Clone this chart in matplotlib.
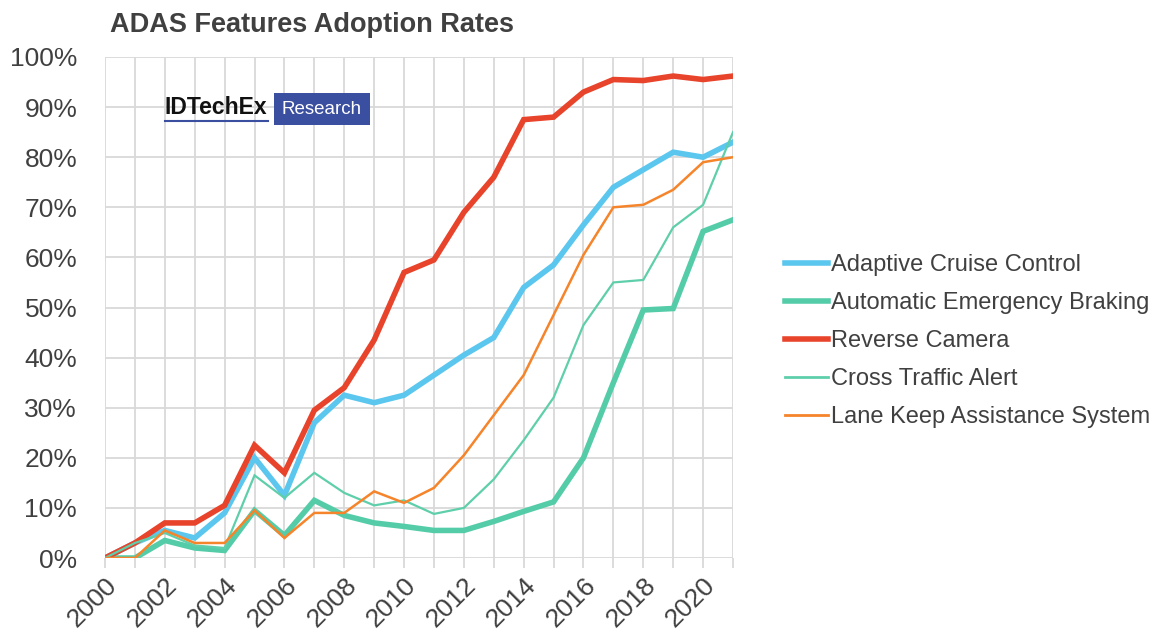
import matplotlib
matplotlib.use('Agg')
import matplotlib.pyplot as plt
from matplotlib.ticker import PercentFormatter


years = list(range(2000, 2022))
acc = [0, 3, 5.5, 4, 9, 20, 12.5, 27, 32.5, 31, 32.5, 36.5, 40.5, 44,
       54, 58.5, 66.5, 74, 77.5, 81, 80, 83]
aeb = [0, 0, 3.5, 2, 1.5, 9.5, 4.5, 11.5, 8.5, 7, 6.3, 5.5, 5.5, 7.3,
       9.3, 11.2, 20, 35, 49.5, 49.8, 65.2, 67.5]
reverse_cam = [0, 3, 7, 7, 10.5, 22.5, 17, 29.5, 34, 43.5, 57, 59.5, 69, 76,
               87.5, 88, 93, 95.5, 95.3, 96.2, 95.5, 96.2]
cta = [0, 3, 5, 2.5, 2, 16.5, 12, 17, 13, 10.5, 11.5, 8.8, 10, 15.7,
       23.5, 32, 46.5, 55, 55.5, 66, 70.5, 85]
lkas = [0, 0, 5.5, 3, 3, 9.5, 4, 9, 9, 13.3, 11, 14, 20.5, 28.5,
        36.5, 48.5, 60.5, 70, 70.5, 73.5, 79, 80]

series = [
    ('Adaptive Cruise Control', acc, '#5bc6ee', 4.0),
    ('Automatic Emergency Braking', aeb, '#55cca8', 4.0),
    ('Reverse Camera', reverse_cam, '#e8432b', 4.0),
    ('Cross Traffic Alert', cta, '#5ecfaa', 1.6),
    ('Lane Keep Assistance System', lkas, '#f5842a', 1.8),
]

plt.rcParams['font.family'] = ['Liberation Sans', 'DejaVu Sans']

fig = plt.figure(figsize=(11.54, 6.32), dpi=100)
ax = fig.add_axes([105 / 1154, 1 - 558 / 632, 628 / 1154, 501 / 632])

for name, vals, color, lw in series:
    ax.plot(years, vals, color=color, lw=lw, label=name, solid_joinstyle='miter')

ax.set_xlim(2000, 2021)
ax.set_ylim(0, 100)
ax.set_xticks(years, minor=True)
ax.set_xticks(range(2000, 2021, 2))
ax.set_yticks(range(0, 101, 10))
ax.yaxis.set_major_formatter(PercentFormatter(decimals=0))
ax.grid(True, which='both', axis='x', color='#d9d9d9', lw=1.3)
ax.grid(True, which='major', axis='y', color='#d9d9d9', lw=1.3)
ax.set_axisbelow(True)
for s in ax.spines.values():
    s.set_visible(False)
ax.tick_params(axis='y', length=0, labelsize=19, labelcolor='#404040', pad=20)
ax.tick_params(axis='x', which='both', length=7, color='#d9d9d9', width=1.3,
               labelsize=19, labelcolor='#404040', pad=4)
for lbl in ax.get_xticklabels():
    lbl.set_rotation(45)
    lbl.set_ha('right')
    lbl.set_rotation_mode('anchor')

fig.text(110 / 1154, 1 - 25 / 632, 'ADAS Features Adoption Rates',
         fontsize=19.5, fontweight='bold', color='#404040', va='center')

# logo
fig.text(164 / 1154, 1 - 108 / 632, 'IDTechEx', fontsize=16.5, fontweight='bold',
         color='#111111', va='center')
fig.add_artist(plt.Line2D([165 / 1154, 268 / 1154], [1 - 121 / 632, 1 - 121 / 632],
                          color='#3b4fa0', lw=1.5))
fig.text(322 / 1154, 1 - 109 / 632, 'Research', fontsize=13.5, color='white',
         va='center', ha='center',
         bbox=dict(boxstyle='square,pad=0.4', fc='#3b4fa0', ec='none'))

leg = ax.legend(loc='center left', bbox_to_anchor=(785 / 1154, 1 - 341 / 632),
                bbox_transform=fig.transFigure, frameon=False, fontsize=17,
                handlelength=1.8, handletextpad=0.15, labelspacing=0.68,
                borderpad=0, borderaxespad=0, labelcolor='#404040')
for h in leg.get_lines():
    h.set_linewidth(4 if h.get_linewidth() > 3 else 2)

fig.savefig('out.png', dpi=100, facecolor='white')
